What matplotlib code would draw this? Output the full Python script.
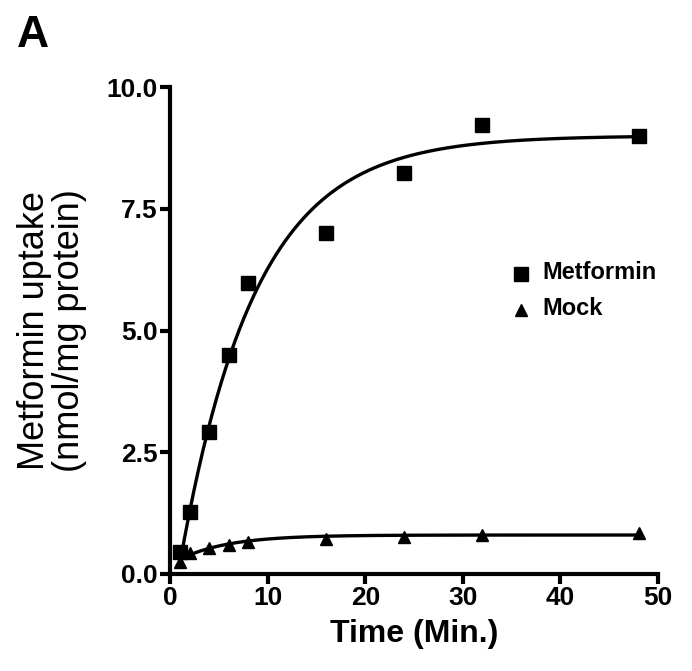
import numpy as np
import matplotlib
matplotlib.use("Agg")
import matplotlib.pyplot as plt

plt.rcParams['font.family'] = ['Liberation Sans', 'DejaVu Sans']

# measured points
time_min = [1, 2, 4, 6, 8, 16, 24, 32, 48]
metformin = [0.45, 1.27, 2.92, 4.5, 5.98, 7.0, 8.23, 9.22, 8.99]
mock = [0.25, 0.43, 0.53, 0.6, 0.66, 0.72, 0.76, 0.8, 0.84]

# one-phase association fit parameters (x0, Y0, plateau, K)
met_fit = (1.0, 0.2, 9.0, 0.13)
mock_fit = (1.0, 0.3, 0.8, 0.2)


def assoc(x, x0, y0, plateau, k):
    return y0 + (plateau - y0) * (1 - np.exp(-k * (x - x0)))


fig = plt.figure(figsize=(6.92, 6.71), dpi=100)
ax = fig.add_axes([0.2457, 0.1446, 0.7053, 0.7257])

xs = np.linspace(1, 48, 300)
ax.plot(xs, assoc(xs, *met_fit), color="black", lw=2.4)
ax.plot(xs, assoc(xs, *mock_fit), color="black", lw=2.4)
ax.plot(time_min, metformin, "s", color="black", ms=9.5, label="Metformin", clip_on=False)
ax.plot(time_min, mock, "^", color="black", ms=8.5, label="Mock", clip_on=False)

ax.set_xlim(0, 50)
ax.set_ylim(0, 10)
ax.set_xticks([0, 10, 20, 30, 40, 50])
ax.set_yticks([0, 2.5, 5.0, 7.5, 10.0])
ax.set_yticklabels(["0.0", "2.5", "5.0", "7.5", "10.0"])
for s in ["top", "right"]:
    ax.spines[s].set_visible(False)
for s in ["left", "bottom"]:
    ax.spines[s].set_linewidth(3)
ax.tick_params(width=3, length=7, labelsize=19, direction="out", pad=2)
for lab in ax.get_xticklabels() + ax.get_yticklabels():
    lab.set_fontweight("bold")

ax.set_xlabel("Time (Min.)", fontsize=23, fontweight="bold", labelpad=6)
ax.set_ylabel("Metformin uptake\n(nmol/mg protein)", fontsize=26, linespacing=1.0, labelpad=14)

leg = ax.legend(loc="upper left", bbox_to_anchor=(0.68, 0.655), frameon=False,
                handletextpad=0.5, labelspacing=0.95, borderaxespad=0)
for t in leg.get_texts():
    t.set_fontsize(17)
    t.set_fontweight("bold")

fig.text(0.025, 0.93, "A", fontsize=32, fontweight="bold")

fig.savefig("out.png", dpi=100)
